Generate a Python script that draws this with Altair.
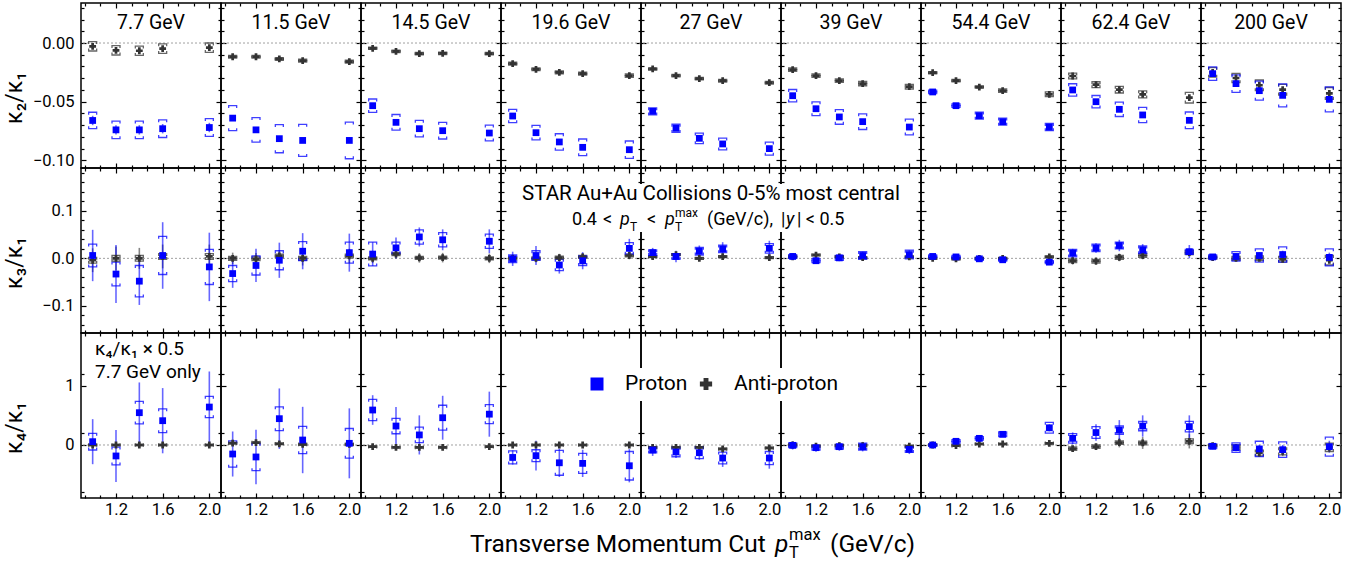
import altair as alt
import pandas as pd

PT = [1.0, 1.2, 1.4, 1.6, 2.0]
ENERGIES = ["7.7", "11.5", "14.5", "19.6", "27", "39", "54.4", "62.4", "200"]

# ---------------- kappa2 / kappa1 ----------------
C21_P = {
    "7.7": [-0.066, -0.074, -0.074, -0.073, -0.072],
    "11.5": [-0.064, -0.074, -0.0815, -0.083, -0.083],
    "14.5": [-0.0534, -0.0676, -0.073, -0.0747, -0.0767],
    "19.6": [-0.0622, -0.0764, -0.0843, -0.0889, -0.0909],
    "27": [-0.0582, -0.0727, -0.0812, -0.086, -0.090],
    "39": [-0.0449, -0.056, -0.063, -0.067, -0.0716],
    "54.4": [-0.0417, -0.0534, -0.0619, -0.067, -0.0716],
    "62.4": [-0.040, -0.050, -0.0565, -0.0613, -0.0659],
    "200": [-0.0261, -0.0346, -0.0406, -0.0446, -0.048],
}
C21_P_STAT = {
    "7.7": [0.004, 0.004, 0.004, 0.004, 0.004],
    "11.5": [0.002, 0.002, 0.002, 0.002, 0.002],
    "14.5": [0.002, 0.002, 0.002, 0.002, 0.002],
    "19.6": [0.002, 0.002, 0.002, 0.002, 0.002],
    "27": [0.0015, 0.0015, 0.0015, 0.0015, 0.0015],
    "39": [0.0015, 0.0015, 0.0015, 0.0015, 0.0015],
    "54.4": [0.0012, 0.0012, 0.0012, 0.0012, 0.0012],
    "62.4": [0.0015, 0.0015, 0.0015, 0.0015, 0.0015],
    "200": [0.0015, 0.0015, 0.0015, 0.0015, 0.0015],
}
C21_P_SYS = {
    "7.7": [0.007, 0.0075, 0.0075, 0.0075, 0.0075],
    "11.5": [0.0106, 0.0105, 0.012, 0.0136, 0.0156],
    "14.5": [0.0057, 0.0067, 0.007, 0.0071, 0.0067],
    "19.6": [0.0057, 0.0062, 0.007, 0.0071, 0.0074],
    "27": [0.003, 0.0035, 0.0045, 0.005, 0.0055],
    "39": [0.0053, 0.0058, 0.0062, 0.0067, 0.0067],
    "54.4": [0.0015, 0.0015, 0.003, 0.003, 0.003],
    "62.4": [0.0053, 0.0053, 0.0061, 0.0065, 0.0071],
    "200": [0.0057, 0.0074, 0.0081, 0.0098, 0.0106],
}
C21_A = {
    "7.7": [-0.0028, -0.0062, -0.0066, -0.0048, -0.004],
    "11.5": [-0.0117, -0.0117, -0.0136, -0.015, -0.0159],
    "14.5": [-0.0045, -0.0071, -0.0091, -0.0088, -0.0091],
    "19.6": [-0.0176, -0.0224, -0.025, -0.0261, -0.0278],
    "27": [-0.0221, -0.0278, -0.0304, -0.0321, -0.0338],
    "39": [-0.0227, -0.0278, -0.0321, -0.0346, -0.0372],
    "54.4": [-0.0253, -0.0321, -0.0375, -0.0406, -0.0437],
    "62.4": [-0.0281, -0.0355, -0.0398, -0.0437, -0.0466],
    "200": [-0.025, -0.0298, -0.036, -0.0398, -0.0429],
}
C21_A_STAT = {
    "7.7": [0.002, 0.002, 0.002, 0.002, 0.002],
    "11.5": [0.0012, 0.0012, 0.0012, 0.0012, 0.0012],
    "14.5": [0.001, 0.001, 0.001, 0.001, 0.001],
    "19.6": [0.001, 0.001, 0.001, 0.001, 0.001],
    "27": [0.001, 0.001, 0.001, 0.001, 0.001],
    "39": [0.001, 0.001, 0.001, 0.001, 0.001],
    "54.4": [0.001, 0.001, 0.001, 0.001, 0.001],
    "62.4": [0.0012, 0.0012, 0.0012, 0.0012, 0.0012],
    "200": [0.0015, 0.0015, 0.0015, 0.0015, 0.0015],
}
C21_A_SYS = {
    "7.7": [0.004, 0.004, 0.004, 0.004, 0.004],
    "11.5": [0.0012, 0.0012, 0.0012, 0.0012, 0.0012],
    "14.5": [0.001, 0.001, 0.001, 0.001, 0.001],
    "19.6": [0.0012, 0.0012, 0.0012, 0.0012, 0.0015],
    "27": [0.001, 0.001, 0.001, 0.0012, 0.0012],
    "39": [0.0015, 0.0015, 0.0015, 0.0018, 0.002],
    "54.4": [0.001, 0.001, 0.001, 0.0015, 0.002],
    "62.4": [0.0025, 0.0025, 0.0028, 0.003, 0.0045],
    "200": [0.004, 0.004, 0.0045, 0.0045, 0.005],
}

# ---------------- kappa3 / kappa1 ----------------
C31_P = {
    "7.7": [0.006, -0.033, -0.048, 0.006, -0.018],
    "11.5": [-0.032, -0.015, -0.004, 0.015, 0.012],
    "14.5": [0.009, 0.022, 0.045, 0.039, 0.036],
    "19.6": [-0.001, 0.006, -0.014, -0.005, 0.021],
    "27": [0.012, 0.004, 0.015, 0.020, 0.021],
    "39": [0.004, -0.005, 0.001, 0.006, 0.008],
    "54.4": [0.004, 0.003, -0.001, -0.003, -0.008],
    "62.4": [0.011, 0.022, 0.027, 0.018, 0.014],
    "200": [0.003, 0.004, 0.006, 0.008, 0.002],
}
C31_P_STAT = {
    "7.7": [0.054, 0.061, 0.050, 0.070, 0.072],
    "11.5": [0.030, 0.035, 0.037, 0.038, 0.040],
    "14.5": [0.025, 0.022, 0.020, 0.022, 0.025],
    "19.6": [0.015, 0.020, 0.018, 0.018, 0.020],
    "27": [0.010, 0.012, 0.012, 0.014, 0.016],
    "39": [0.006, 0.007, 0.007, 0.008, 0.009],
    "54.4": [0.004, 0.004, 0.004, 0.005, 0.006],
    "62.4": [0.009, 0.010, 0.012, 0.012, 0.014],
    "200": [0.004, 0.006, 0.007, 0.008, 0.010],
}
C31_P_SYS = {
    "7.7": [0.024, 0.025, 0.033, 0.040, 0.037],
    "11.5": [0.017, 0.020, 0.020, 0.020, 0.022],
    "14.5": [0.025, 0.012, 0.015, 0.015, 0.015],
    "19.6": [0.008, 0.010, 0.012, 0.010, 0.012],
    "27": [0.006, 0.006, 0.008, 0.008, 0.010],
    "39": [0.004, 0.004, 0.005, 0.008, 0.009],
    "54.4": [0.003, 0.003, 0.003, 0.003, 0.003],
    "62.4": [0.008, 0.008, 0.007, 0.008, 0.005],
    "200": [0.004, 0.010, 0.014, 0.016, 0.018],
}
C31_A = {
    "7.7": [-0.004, 0.0, 0.0, 0.004, 0.004],
    "11.5": [0.0, -0.001, 0.005, 0.0, 0.005],
    "14.5": [0.0, 0.009, 0.001, 0.0015, 0.0],
    "19.6": [0.0, 0.0, 0.0015, 0.003, 0.006],
    "27": [0.0035, 0.008, 0.0, 0.0035, 0.0015],
    "39": [0.003, 0.007, 0.003, 0.0015, 0.003],
    "54.4": [0.0, -0.001, 0.0, 0.0, 0.003],
    "62.4": [-0.005, -0.006, 0.002, 0.006, 0.012],
    "200": [0.0015, 0.0, 0.0, -0.002, -0.004],
}
C31_A_STAT = {
    "7.7": [0.025, 0.025, 0.022, 0.025, 0.025],
    "11.5": [0.012, 0.012, 0.012, 0.015, 0.015],
    "14.5": [0.010, 0.010, 0.010, 0.010, 0.010],
    "19.6": [0.008, 0.008, 0.008, 0.008, 0.008],
    "27": [0.005, 0.005, 0.005, 0.005, 0.005],
    "39": [0.003, 0.003, 0.003, 0.003, 0.003],
    "54.4": [0.003, 0.003, 0.003, 0.003, 0.003],
    "62.4": [0.008, 0.008, 0.008, 0.008, 0.008],
    "200": [0.004, 0.004, 0.004, 0.004, 0.004],
}
C31_A_SYS = {
    "7.7": [0.006, 0.006, 0.006, 0.006, 0.006],
    "11.5": [0.004, 0.004, 0.004, 0.004, 0.004],
    "14.5": [0.003, 0.003, 0.003, 0.003, 0.003],
    "19.6": [0.003, 0.003, 0.003, 0.003, 0.003],
    "27": [0.002, 0.002, 0.002, 0.002, 0.002],
    "39": [0.002, 0.002, 0.002, 0.002, 0.002],
    "54.4": [0.002, 0.002, 0.002, 0.002, 0.002],
    "62.4": [0.004, 0.004, 0.004, 0.004, 0.004],
    "200": [0.003, 0.004, 0.005, 0.006, 0.010],
}

# ---------------- kappa4 / kappa1 ----------------
C41_P = {
    "7.7": [0.056, -0.185, 0.545, 0.41, 0.64],
    "11.5": [-0.152, -0.202, 0.444, 0.084, 0.028],
    "14.5": [0.59, 0.32, 0.17, 0.46, 0.52],
    "19.6": [-0.21, -0.18, -0.30, -0.31, -0.35],
    "27": [-0.084, -0.118, -0.13, -0.22, -0.22],
    "39": [-0.006, -0.045, -0.028, -0.028, -0.073],
    "54.4": [0.0, 0.062, 0.112, 0.18, 0.29],
    "62.4": [0.112, 0.21, 0.25, 0.32, 0.31],
    "200": [-0.022, -0.045, -0.067, -0.079, -0.028],
}
C41_P_STAT = {
    "7.7": [0.38, 0.44, 0.51, 0.55, 0.60],
    "11.5": [0.38, 0.46, 0.51, 0.56, 0.59],
    "14.5": [0.25, 0.32, 0.33, 0.37, 0.38],
    "19.6": [0.12, 0.25, 0.24, 0.23, 0.28],
    "27": [0.10, 0.10, 0.12, 0.15, 0.18],
    "39": [0.07, 0.07, 0.07, 0.08, 0.08],
    "54.4": [0.02, 0.03, 0.03, 0.04, 0.06],
    "62.4": [0.10, 0.14, 0.17, 0.18, 0.19],
    "200": [0.05, 0.06, 0.07, 0.08, 0.10],
}
C41_P_SYS = {
    "7.7": [0.14, 0.15, 0.19, 0.20, 0.18],
    "11.5": [0.22, 0.23, 0.20, 0.23, 0.25],
    "14.5": [0.18, 0.13, 0.13, 0.21, 0.16],
    "19.6": [0.11, 0.10, 0.21, 0.17, 0.24],
    "27": [0.05, 0.08, 0.10, 0.10, 0.11],
    "39": [0.04, 0.04, 0.04, 0.06, 0.05],
    "54.4": [0.02, 0.03, 0.03, 0.04, 0.09],
    "62.4": [0.08, 0.10, 0.07, 0.08, 0.09],
    "200": [0.04, 0.08, 0.13, 0.13, 0.16],
}
C41_A = {
    "7.7": [0.0, 0.0, 0.0, 0.0, 0.0],
    "11.5": [0.03, 0.04, 0.02, 0.01, 0.01],
    "14.5": [-0.028, -0.04, -0.04, -0.04, -0.028],
    "19.6": [0.0, 0.0, 0.0, 0.0, 0.0],
    "27": [-0.04, -0.04, -0.04, -0.067, -0.05],
    "39": [0.0, -0.02, -0.01, -0.01, -0.02],
    "54.4": [0.0, -0.01, 0.017, 0.017, 0.028],
    "62.4": [-0.062, -0.028, 0.04, 0.034, 0.062],
    "200": [-0.01, -0.04, -0.135, -0.107, -0.04],
}
C41_A_STAT = {
    "7.7": [0.03, 0.03, 0.03, 0.03, 0.03],
    "11.5": [0.04, 0.04, 0.04, 0.04, 0.04],
    "14.5": [0.03, 0.03, 0.03, 0.03, 0.03],
    "19.6": [0.03, 0.03, 0.03, 0.03, 0.03],
    "27": [0.04, 0.04, 0.04, 0.04, 0.04],
    "39": [0.03, 0.03, 0.03, 0.03, 0.03],
    "54.4": [0.02, 0.02, 0.02, 0.02, 0.02],
    "62.4": [0.04, 0.05, 0.08, 0.10, 0.12],
    "200": [0.03, 0.05, 0.06, 0.08, 0.08],
}
C41_A_SYS = {
    "7.7": [0.01, 0.01, 0.01, 0.01, 0.01],
    "11.5": [0.01, 0.01, 0.01, 0.01, 0.01],
    "14.5": [0.01, 0.01, 0.01, 0.01, 0.01],
    "19.6": [0.01, 0.01, 0.01, 0.01, 0.01],
    "27": [0.01, 0.01, 0.01, 0.01, 0.01],
    "39": [0.01, 0.01, 0.01, 0.01, 0.01],
    "54.4": [0.01, 0.01, 0.01, 0.01, 0.01],
    "62.4": [0.03, 0.03, 0.03, 0.03, 0.04],
    "200": [0.02, 0.04, 0.05, 0.06, 0.07],
}

SERIES = [
    [("Anti-proton", C21_A, C21_A_STAT, C21_A_SYS), ("Proton", C21_P, C21_P_STAT, C21_P_SYS)],
    [("Anti-proton", C31_A, C31_A_STAT, C31_A_SYS), ("Proton", C31_P, C31_P_STAT, C31_P_SYS)],
    [("Anti-proton", C41_A, C41_A_STAT, C41_A_SYS), ("Proton", C41_P, C41_P_STAT, C41_P_SYS)],
]

ROW_TITLES = ["κ₂/κ₁", "κ₃/κ₁", "κ₄/κ₁"]
ROW_DOMAIN = [[-0.1065, 0.0341], [-0.157, 0.190], [-0.894, 1.889]]
ROW_MAJOR = [[-0.10, -0.05, 0.0], [-0.1, 0.0, 0.1], [0, 1]]
ROW_MINOR = [
    [-0.09, -0.08, -0.07, -0.06, -0.04, -0.03, -0.02, -0.01, 0.01, 0.02, 0.03],
    [-0.14, -0.12, -0.08, -0.06, -0.04, -0.02, 0.02, 0.04, 0.06, 0.08, 0.12, 0.14, 0.16, 0.18],
    [-0.8, -0.6, -0.4, -0.2, 0.2, 0.4, 0.6, 0.8, 1.2, 1.4, 1.6, 1.8],
]
ROW_FMT = [".2f", ".1f", "d"]
X_DOMAIN = [0.9, 2.1]
X_MAJOR = [1.2, 1.6, 2.0]
X_MINOR = [0.9333, 1.0667, 1.3333, 1.4667, 1.7333, 1.8667]

W, H = 140, 165
LEFT = 81  # left edge of the first panel on the page
FONT = "Roboto"
BLUE = "#0000ff"
GREY = "#333333"
CAP_TOP = "M -1 0.6 L -1 0 L 1 0 L 1 0.6"
CAP_BOT = "M -1 -0.6 L -1 0 L 1 0 L 1 -0.6"


def frame(r, e):
    recs = []
    for sp, vals, stat, sys in SERIES[r]:
        for x, v, s, y in zip(PT, vals[e], stat[e], sys[e]):
            recs.append(dict(species=sp, pt=x, val=v, stat_lo=v - s, stat_hi=v + s,
                             sys_lo=v - y, sys_hi=v + y))
    return pd.DataFrame(recs)


def label(text, x, y, size, style="normal", align="left", baseline="alphabetic", angle=0):
    return alt.Chart(pd.DataFrame({"t": [text]})).mark_text(
        font=FONT, fontSize=size, fontStyle=style, align=align, baseline=baseline,
        angle=angle, color="black"
    ).encode(text="t:N", x=alt.value(x), y=alt.value(y))


def backdrop(x, x2, y, y2):
    return alt.Chart(pd.DataFrame({"b": [0]})).mark_rect(color="white", opacity=1).encode(
        x=alt.value(x), x2=alt.value(x2), y=alt.value(y), y2=alt.value(y2))


def x_axis(orient, values, size, labels):
    return alt.Axis(orient=orient, values=values, tickSize=size, offset=-size, domain=False,
                    grid=False, labels=labels, title=None, format=".1f", labelPadding=3,
                    labelFontSize=16.5, labelFlush=False)


def y_axis(orient, values, size, labels, fmt):
    return alt.Axis(orient=orient, values=values, tickSize=size, offset=-size, domain=False,
                    grid=False, labels=labels, title=None, format=fmt, labelPadding=7,
                    labelFontSize=16.5, labelFlush=False)


def annotations(r, c):
    """Texts placed in page coordinates; converted to the panel's own frame."""
    ox, oy = LEFT + c * W, r * H
    out = []

    def txt(text, gx, gy, size, **kw):
        out.append(label(text, gx - ox, gy - oy, size, **kw))

    if r == 1 and c == 8:
        out.append(backdrop(517 - ox, 906 - ox, 181 - oy, 229 - oy))
        txt("STAR Au+Au Collisions 0-5% most central", 711, 197, 20.5, align="center")
        gy = 222
        txt("0.4", 572, gy, 18)
        txt("<", 603, gy, 18)
        txt("p", 620, gy, 18, style="italic")
        txt("T", 630, gy + 6, 12)
        txt("<", 647, gy, 18)
        txt("p", 665, gy, 18, style="italic")
        txt("T", 675, gy + 6, 12)
        txt("max", 675, gy - 8, 12)
        txt("(GeV/c),", 707, gy, 18)
        txt("|", 781, gy, 18)
        txt("y", 786, gy, 18, style="italic")
        txt("| < 0.5", 797, gy, 18)
    if r == 2 and c == 8:
        out.append(backdrop(586 - ox, 840 - ox, 365 - oy, 398 - oy))
        out.append(alt.Chart(pd.DataFrame({"s": ["Proton"]})).mark_point(
            shape="square", filled=True, size=169, color=BLUE, opacity=1
        ).encode(x=alt.value(597 - ox), y=alt.value(381 - oy)))
        txt("Proton", 625, 381, 21, baseline="middle")
        out.append(alt.Chart(pd.DataFrame({"s": ["Anti-proton"]})).mark_point(
            shape="cross", filled=True, size=150, color=GREY, opacity=1
        ).encode(x=alt.value(706 - ox), y=alt.value(381 - oy)))
        txt("Anti-proton", 734, 381, 21, baseline="middle")
    if r == 2 and c == 0:
        txt("κ₄/κ₁ × 0.5", 95, 352, 19)
        txt("7.7 GeV only", 95, 375, 19)
        # overall x-axis title
        gy = 549
        txt("Transverse Momentum Cut", 470, gy, 24.5)
        txt("p", 775, gy, 24.5, style="italic")
        txt("T", 789, gy + 6, 16.5)
        txt("max", 789, gy - 12, 16.5)
        txt("(GeV/c)", 830, gy, 24.5)
    return out


def panel(r, c):
    e = ENERGIES[c]
    df = frame(r, e)
    xs = alt.Scale(domain=X_DOMAIN, nice=False, zero=False)
    ys = alt.Scale(domain=ROW_DOMAIN[r], nice=False, zero=False)
    color = alt.Color("species:N", legend=None,
                      scale=alt.Scale(domain=["Proton", "Anti-proton"], range=[BLUE, GREY]))
    fmt = ROW_FMT[r]
    base = alt.Chart(df)

    zero = alt.Chart(pd.DataFrame({"z": [0.0]})).mark_rule(
        color="#a0a0a0", strokeDash=[2, 2], strokeWidth=1
    ).encode(y=alt.Y("z:Q", scale=ys, axis=None))

    stat = base.mark_rule(strokeWidth=1.6, opacity=0.6).encode(
        x=alt.X("pt:Q", scale=xs, axis=x_axis("bottom", X_MAJOR, 5, r == 2)),
        y=alt.Y("stat_lo:Q", scale=ys, axis=y_axis("left", ROW_MAJOR[r], 5, c == 0, fmt)),
        y2="stat_hi:Q",
        color=color,
    )
    cap_top = base.mark_point(shape=CAP_TOP, filled=False, size=64, strokeWidth=1.3,
                              opacity=0.75).encode(
        x=alt.X("pt:Q", scale=xs, axis=x_axis("bottom", X_MINOR, 3, False)),
        y=alt.Y("sys_hi:Q", scale=ys, axis=y_axis("left", ROW_MINOR[r], 3, False, fmt)),
        color=color,
    )
    cap_bot = base.mark_point(shape=CAP_BOT, filled=False, size=64, strokeWidth=1.3,
                              opacity=0.75).encode(
        x=alt.X("pt:Q", scale=xs, axis=x_axis("top", X_MAJOR, 5, False)),
        y=alt.Y("sys_lo:Q", scale=ys, axis=y_axis("right", ROW_MAJOR[r], 5, False, fmt)),
        color=color,
    )
    anti = base.transform_filter(alt.datum.species == "Anti-proton").mark_point(
        shape="cross", filled=True, size=46, opacity=1
    ).encode(
        x=alt.X("pt:Q", scale=xs, axis=x_axis("top", X_MINOR, 3, False)),
        y=alt.Y("val:Q", scale=ys, axis=y_axis("right", ROW_MINOR[r], 3, False, fmt)),
        color=color,
    )
    prot = base.transform_filter(alt.datum.species == "Proton").mark_point(
        shape="square", filled=True, size=46, opacity=1
    ).encode(
        x=alt.X("pt:Q", scale=xs, axis=None),
        y=alt.Y("val:Q", scale=ys, axis=None),
        color=color,
    )

    layers = [zero, stat, cap_top, cap_bot, anti, prot]
    if r == 0:
        layers.append(label(e + " GeV", W / 2, 20, 19.5, align="center", baseline="middle"))
    if c == 0:
        layers.append(label(ROW_TITLES[r], -66, 95, 23, align="center", baseline="middle",
                            angle=270))
    layers += annotations(r, c)

    return alt.layer(*layers).resolve_axis(x="independent", y="independent").properties(
        width=W, height=H
    )


panels = [panel(r, c) for r in range(3) for c in range(len(ENERGIES))]

chart = alt.concat(*panels, columns=9, spacing=0, bounds="flush").properties(
    padding={"left": 3, "top": 1, "right": 5, "bottom": 5}
).configure_view(
    stroke="black", strokeWidth=1.5
).configure_axis(
    labelFont=FONT, labelColor="black", tickColor="black", tickWidth=1.2
)

chart.save("out.html", embed_options={"renderer": "svg", "actions": False})
